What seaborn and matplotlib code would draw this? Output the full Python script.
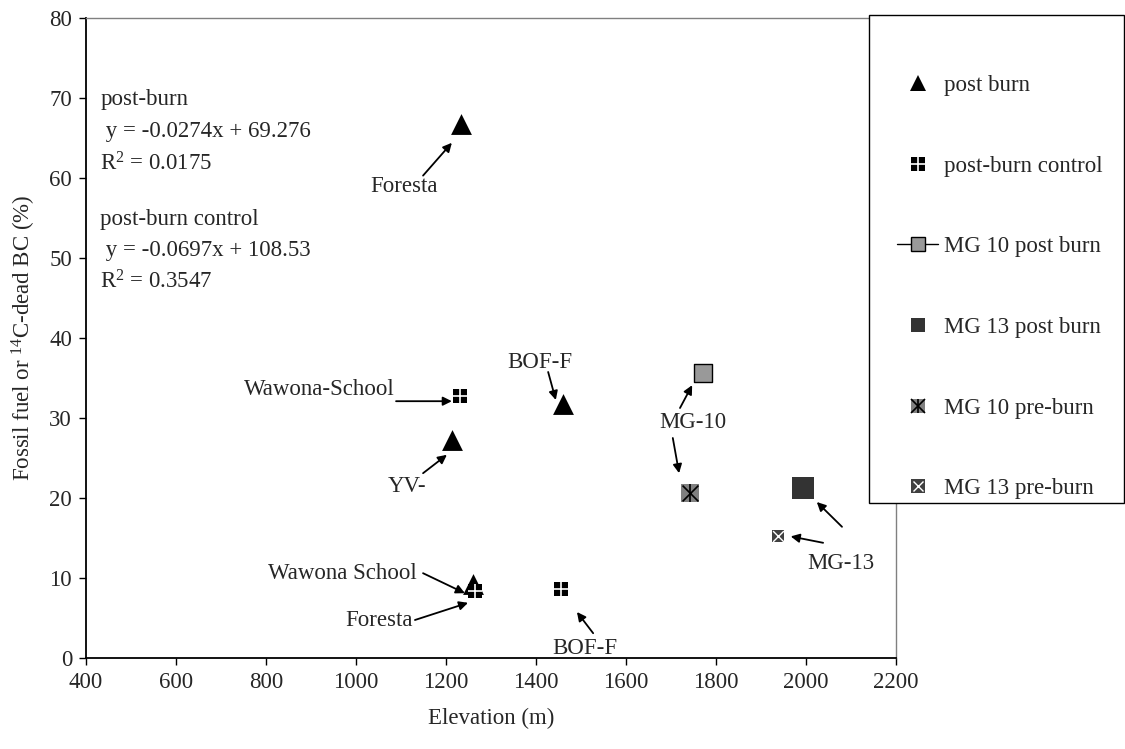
import matplotlib
matplotlib.use("Agg")
import matplotlib.pyplot as plt
from matplotlib.lines import Line2D
from matplotlib.patches import Rectangle
import seaborn as sns
import pandas as pd

# ---- data -------------------------------------------------------------
post_burn_elev = [1233, 1461, 1214, 1259]
post_burn_val = [66.8, 31.8, 27.3, 9.3]

control_elev = [1232, 1264, 1456]
control_val = [32.8, 8.4, 8.6]

mg10_post_elev = [1771]
mg10_post_val = [35.6]

mg13_post_elev = [1993]
mg13_post_val = [21.2]

mg10_pre_elev = [1742]
mg10_pre_val = [20.6]

mg13_pre_elev = [1938]
mg13_pre_val = [15.2]

x_ticks = [400, 600, 800, 1000, 1200, 1400, 1600, 1800, 2000, 2200]
y_ticks = [0, 10, 20, 30, 40, 50, 60, 70, 80]

reg_text = ["post-burn", " y = -0.0274x + 69.276", "R$^2$ = 0.0175",
            "post-burn control", " y = -0.0697x + 108.53", "R$^2$ = 0.3547"]

legend_labels = ["post burn", "post-burn control", "MG 10 post burn",
                 "MG 13 post burn", "MG 10 pre-burn", "MG 13 pre-burn"]

# ---- style ------------------------------------------------------------
sns.set_theme(style="white")
plt.rcParams["font.family"] = ["Liberation Serif", "DejaVu Serif"]
plt.rcParams["mathtext.fontset"] = "custom"
plt.rcParams["mathtext.rm"] = "Liberation Serif"
plt.rcParams["mathtext.it"] = "Liberation Serif:italic"
FS = 16.5

fig = plt.figure(figsize=(11.25, 7.49), dpi=100)
ax = fig.add_axes([86 / 1125, 1 - 658 / 749, 810 / 1125, 640 / 749])

def frame(x, y):
    return pd.DataFrame({"x": x, "y": y})

# post burn: black triangles
sns.scatterplot(data=frame(post_burn_elev, post_burn_val), x="x", y="y", ax=ax,
                marker="^", s=225, color="black", linewidth=0, zorder=3)
# post-burn control: black square split by a white cross
sns.scatterplot(data=frame(control_elev, control_val), x="x", y="y", ax=ax,
                marker="s", s=100, color="black", linewidth=0, zorder=3)
sns.scatterplot(data=frame(control_elev, control_val), x="x", y="y", ax=ax,
                marker="+", s=100, color="white", linewidth=1.2, zorder=4)
# MG 10 post burn: grey square with black edge
sns.scatterplot(data=frame(mg10_post_elev, mg10_post_val), x="x", y="y", ax=ax,
                marker="s", s=150, color="#999999", edgecolor="black",
                linewidth=1.0, zorder=3)
# MG 13 post burn: dark square
sns.scatterplot(data=frame(mg13_post_elev, mg13_post_val), x="x", y="y", ax=ax,
                marker="s", s=250, color="#333333", linewidth=0, zorder=3)
# MG 10 pre-burn: grey square with black asterisk
sns.scatterplot(data=frame(mg10_pre_elev, mg10_pre_val), x="x", y="y", ax=ax,
                marker="s", s=150, color="#808080", linewidth=0, zorder=3)
sns.scatterplot(data=frame(mg10_pre_elev, mg10_pre_val), x="x", y="y", ax=ax,
                marker="x", s=130, color="black", linewidth=1.2, zorder=4)
sns.scatterplot(data=frame(mg10_pre_elev, mg10_pre_val), x="x", y="y", ax=ax,
                marker="|", s=150, color="black", linewidth=1.2, zorder=4)
# MG 13 pre-burn: dark square with white x
sns.scatterplot(data=frame(mg13_pre_elev, mg13_pre_val), x="x", y="y", ax=ax,
                marker="s", s=80, color="#404040", linewidth=0, zorder=3)
sns.scatterplot(data=frame(mg13_pre_elev, mg13_pre_val), x="x", y="y", ax=ax,
                marker="x", s=60, color="white", linewidth=1.0, zorder=4)

# ---- axes -------------------------------------------------------------
ax.set_xlim(400, 2200)
ax.set_ylim(0, 80)
ax.set_xticks(x_ticks)
ax.set_yticks(y_ticks)
ax.tick_params(axis="both", which="major", direction="out", length=5, width=1,
               color="black", labelsize=FS, pad=5, bottom=True, left=True)
for side in ("left", "bottom"):
    ax.spines[side].set_color("black")
    ax.spines[side].set_linewidth(1.3)
for side in ("top", "right"):
    ax.spines[side].set_color("#808080")
    ax.spines[side].set_linewidth(1.0)

ax.set_xlabel("Elevation (m)", fontsize=FS, labelpad=11)
ax.set_ylabel("Fossil fuel or $^{14}$C-dead BC (%)", fontsize=FS)
ax.yaxis.label.set_va("center")
ax.yaxis.set_label_coords(-0.077, 0.5)

# regression equations
reg_y = [69.75, 65.75, 61.75, 54.75, 50.9, 47.0]
for txt, yy in zip(reg_text, reg_y):
    ax.text(432, yy, txt, fontsize=FS, ha="left", va="center")

# ---- point labels with arrows ----------------------------------------
arrow = dict(arrowstyle="-|>", color="black", lw=1.3, mutation_scale=13,
             shrinkA=0, shrinkB=0)

def note(text, text_xy, start, end, ha="center"):
    if text:
        ax.text(*text_xy, text, fontsize=FS, ha=ha, va="center")
    ax.annotate("", xy=end, xytext=start, arrowprops=arrow)

note("Foresta", (1107, 58.9), (1149, 60.3), (1213, 64.4))
note("Wawona-School", (1085, 33.6), (1089, 32.1), (1213, 32.1), ha="right")
note("YV-", (1113, 21.4), (1149, 23.1), (1202, 25.4))
note("BOF-F", (1409, 36.9), (1427, 35.75), (1444, 32.25))
note("Wawona School", (969, 10.6), (1149, 10.6), (1242, 8.1))
note("Foresta", (1051, 4.75), (1131, 4.75), (1249, 6.9))
note("BOF-F", (1509, 1.25), (1527, 3.1), (1491, 5.75))
note("MG-10", (1749, 29.4), (1720, 31.25), (1747, 34.1))
note("", None, (1704, 27.5), (1718, 23.1))
note("MG-13", (2078, 11.8), (2038, 14.4), (1966, 15.2))
note("", None, (2080, 16.4), (2024, 19.5))

# ---- legend -----------------------------------------------------------
box = Rectangle((869 / 1125, 1 - 503 / 749), 255 / 1125, 488 / 749,
                transform=fig.transFigure, facecolor="white",
                edgecolor="black", linewidth=1.0, zorder=2)
fig.add_artist(box)

h_tri = Line2D([], [], marker="^", color="black", linestyle="none",
               markersize=12, markeredgewidth=0)
h_ctl = (Line2D([], [], marker="s", color="black", linestyle="none",
                markersize=10.5, markeredgewidth=0),
         Line2D([], [], marker="+", color="white", linestyle="none",
                markersize=10.5, markeredgewidth=1.2))
h_mg10p = Line2D([], [], marker="s", color="black", linestyle="-", lw=1.0,
                 markerfacecolor="#999999", markeredgecolor="black",
                 markersize=9.5, markeredgewidth=1.0)
h_mg13p = Line2D([], [], marker="s", color="#333333", linestyle="none",
                 markersize=9.5, markeredgewidth=0)
h_mg10pre = (Line2D([], [], marker="s", color="#808080", linestyle="none",
                    markersize=10.5, markeredgewidth=0),
             Line2D([], [], marker="x", color="black", linestyle="none",
                    markersize=9.5, markeredgewidth=1.2),
             Line2D([], [], marker="|", color="black", linestyle="none",
                    markersize=10.5, markeredgewidth=1.2))
h_mg13pre = (Line2D([], [], marker="s", color="#404040", linestyle="none",
                    markersize=9.5, markeredgewidth=0),
             Line2D([], [], marker="x", color="white", linestyle="none",
                    markersize=7, markeredgewidth=1.0))

leg = fig.legend([h_tri, h_ctl, h_mg10p, h_mg13p, h_mg10pre, h_mg13pre],
                 legend_labels, loc="upper left",
                 bbox_to_anchor=(897 / 1125, 1 - 75 / 749),
                 frameon=False, fontsize=FS, handlelength=1.8,
                 handletextpad=0.25, labelspacing=2.6, borderpad=0,
                 borderaxespad=0)
leg.set_zorder(3)

fig.savefig("out.png", dpi=100)
